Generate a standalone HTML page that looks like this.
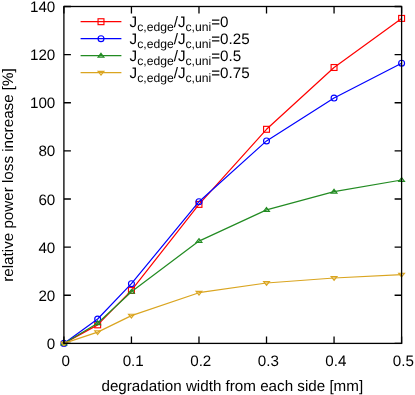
<!DOCTYPE html><html><head><meta charset="utf-8"><style>html,body{margin:0;padding:0;background:#fff;}svg{display:block;will-change:transform;}text{text-rendering:geometricPrecision;font-family:"Liberation Sans",sans-serif;font-size:15.2px;fill:#000;}</style></head><body>
<svg width="415" height="395" viewBox="0 0 415 395">
<rect width="415" height="395" fill="#fff"/>
<text x="55.3" y="349.00" text-anchor="end">0</text>
<text x="55.3" y="300.87" text-anchor="end">20</text>
<text x="55.3" y="252.74" text-anchor="end">40</text>
<text x="55.3" y="204.61" text-anchor="end">60</text>
<text x="55.3" y="156.49" text-anchor="end">80</text>
<text x="55.3" y="108.36" text-anchor="end">100</text>
<text x="55.3" y="60.23" text-anchor="end">120</text>
<text x="55.3" y="12.10" text-anchor="end">140</text>
<text x="65.70" y="365.8" text-anchor="middle">0</text>
<text x="133.24" y="365.8" text-anchor="middle">0.1</text>
<text x="200.78" y="365.8" text-anchor="middle">0.2</text>
<text x="268.32" y="365.8" text-anchor="middle">0.3</text>
<text x="335.86" y="365.8" text-anchor="middle">0.4</text>
<text x="403.40" y="365.8" text-anchor="middle">0.5</text>
<text x="232.3" y="391.4" text-anchor="middle">degradation width from each side [mm]</text>
<text transform="translate(12.6,175) rotate(-90)" text-anchor="middle">relative power loss increase [%]</text>
<polyline points="63.90,343.40 97.67,324.85 131.44,290.40 198.98,204.40 266.52,129.30 334.06,67.50 401.60,18.40" fill="none" stroke="#ff0000" stroke-width="1.2" stroke-linejoin="round"/>
<rect x="94.72" y="321.90" width="5.90" height="5.90" fill="none" stroke="#ff0000" stroke-width="1.15"/>
<rect x="128.49" y="287.45" width="5.90" height="5.90" fill="none" stroke="#ff0000" stroke-width="1.15"/>
<rect x="196.03" y="201.45" width="5.90" height="5.90" fill="none" stroke="#ff0000" stroke-width="1.15"/>
<rect x="263.57" y="126.35" width="5.90" height="5.90" fill="none" stroke="#ff0000" stroke-width="1.15"/>
<rect x="331.11" y="64.55" width="5.90" height="5.90" fill="none" stroke="#ff0000" stroke-width="1.15"/>
<rect x="398.65" y="15.45" width="5.90" height="5.90" fill="none" stroke="#ff0000" stroke-width="1.15"/>
<polyline points="63.90,343.40 97.67,319.00 131.44,283.70 198.98,201.70 266.52,140.90 334.06,98.00 401.60,63.20" fill="none" stroke="#0000ff" stroke-width="1.2" stroke-linejoin="round"/>
<circle cx="63.90" cy="343.40" r="2.95" fill="none" stroke="#0000ff" stroke-width="1.15"/>
<circle cx="97.67" cy="319.00" r="2.95" fill="none" stroke="#0000ff" stroke-width="1.15"/>
<circle cx="131.44" cy="283.70" r="2.95" fill="none" stroke="#0000ff" stroke-width="1.15"/>
<circle cx="198.98" cy="201.70" r="2.95" fill="none" stroke="#0000ff" stroke-width="1.15"/>
<circle cx="266.52" cy="140.90" r="2.95" fill="none" stroke="#0000ff" stroke-width="1.15"/>
<circle cx="334.06" cy="98.00" r="2.95" fill="none" stroke="#0000ff" stroke-width="1.15"/>
<circle cx="401.60" cy="63.20" r="2.95" fill="none" stroke="#0000ff" stroke-width="1.15"/>
<polyline points="63.90,343.40 97.67,323.20 131.44,291.80 198.98,241.10 266.52,209.90 334.06,191.70 401.60,180.00" fill="none" stroke="#228b22" stroke-width="1.2" stroke-linejoin="round"/>
<path d="M63.90 341.00 L66.80 344.80 L61.00 344.80 Z" fill="none" stroke="#228b22" stroke-width="1.15" stroke-linejoin="miter"/>
<path d="M97.67 320.80 L100.57 324.60 L94.77 324.60 Z" fill="none" stroke="#228b22" stroke-width="1.15" stroke-linejoin="miter"/>
<path d="M131.44 289.40 L134.34 293.20 L128.54 293.20 Z" fill="none" stroke="#228b22" stroke-width="1.15" stroke-linejoin="miter"/>
<path d="M198.98 238.70 L201.88 242.50 L196.08 242.50 Z" fill="none" stroke="#228b22" stroke-width="1.15" stroke-linejoin="miter"/>
<path d="M266.52 207.50 L269.42 211.30 L263.62 211.30 Z" fill="none" stroke="#228b22" stroke-width="1.15" stroke-linejoin="miter"/>
<path d="M334.06 189.30 L336.96 193.10 L331.16 193.10 Z" fill="none" stroke="#228b22" stroke-width="1.15" stroke-linejoin="miter"/>
<path d="M401.60 177.60 L404.50 181.40 L398.70 181.40 Z" fill="none" stroke="#228b22" stroke-width="1.15" stroke-linejoin="miter"/>
<polyline points="63.90,343.40 97.67,332.10 131.44,315.60 198.98,292.70 266.52,283.00 334.06,278.00 401.60,274.60" fill="none" stroke="#daa520" stroke-width="1.2" stroke-linejoin="round"/>
<path d="M63.90 345.80 L66.80 342.00 L61.00 342.00 Z" fill="none" stroke="#daa520" stroke-width="1.15" stroke-linejoin="miter"/>
<path d="M97.67 334.50 L100.57 330.70 L94.77 330.70 Z" fill="none" stroke="#daa520" stroke-width="1.15" stroke-linejoin="miter"/>
<path d="M131.44 318.00 L134.34 314.20 L128.54 314.20 Z" fill="none" stroke="#daa520" stroke-width="1.15" stroke-linejoin="miter"/>
<path d="M198.98 295.10 L201.88 291.30 L196.08 291.30 Z" fill="none" stroke="#daa520" stroke-width="1.15" stroke-linejoin="miter"/>
<path d="M266.52 285.40 L269.42 281.60 L263.62 281.60 Z" fill="none" stroke="#daa520" stroke-width="1.15" stroke-linejoin="miter"/>
<path d="M334.06 280.40 L336.96 276.60 L331.16 276.60 Z" fill="none" stroke="#daa520" stroke-width="1.15" stroke-linejoin="miter"/>
<path d="M401.60 277.00 L404.50 273.20 L398.70 273.20 Z" fill="none" stroke="#daa520" stroke-width="1.15" stroke-linejoin="miter"/>
<g stroke="#000" stroke-width="1.3" fill="none">
<path d="M63.9 343.40 h7 M401.6 343.40 h-7"/>
<path d="M63.9 295.27 h7 M401.6 295.27 h-7"/>
<path d="M63.9 247.14 h7 M401.6 247.14 h-7"/>
<path d="M63.9 199.01 h7 M401.6 199.01 h-7"/>
<path d="M63.9 150.89 h7 M401.6 150.89 h-7"/>
<path d="M63.9 102.76 h7 M401.6 102.76 h-7"/>
<path d="M63.9 54.63 h7 M401.6 54.63 h-7"/>
<path d="M63.9 6.50 h7 M401.6 6.50 h-7"/>
<path d="M63.90 343.4 v-7 M63.90 6.5 v7"/>
<path d="M131.44 343.4 v-7 M131.44 6.5 v7"/>
<path d="M198.98 343.4 v-7 M198.98 6.5 v7"/>
<path d="M266.52 343.4 v-7 M266.52 6.5 v7"/>
<path d="M334.06 343.4 v-7 M334.06 6.5 v7"/>
<path d="M401.60 343.4 v-7 M401.60 6.5 v7"/>
<rect x="63.9" y="6.5" width="337.70" height="336.90"/>
</g>
<path d="M80.6 21.70 H121.4" stroke="#ff0000" stroke-width="1.2" fill="none"/>
<rect x="98.05" y="18.75" width="5.90" height="5.90" fill="none" stroke="#ff0000" stroke-width="1.15"/>
<text x="129.6" y="26.60">J<tspan font-size="12.16px" dy="4.4">c,edge</tspan><tspan dy="-4.4">/J</tspan><tspan font-size="12.16px" dy="4.4">c,uni</tspan><tspan dy="-4.4">=0</tspan></text>
<path d="M80.6 38.70 H121.4" stroke="#0000ff" stroke-width="1.2" fill="none"/>
<circle cx="101.00" cy="38.70" r="2.95" fill="none" stroke="#0000ff" stroke-width="1.15"/>
<text x="129.6" y="43.60">J<tspan font-size="12.16px" dy="4.4">c,edge</tspan><tspan dy="-4.4">/J</tspan><tspan font-size="12.16px" dy="4.4">c,uni</tspan><tspan dy="-4.4">=0.25</tspan></text>
<path d="M80.6 55.70 H121.4" stroke="#228b22" stroke-width="1.2" fill="none"/>
<path d="M101.00 53.30 L103.90 57.10 L98.10 57.10 Z" fill="none" stroke="#228b22" stroke-width="1.15" stroke-linejoin="miter"/>
<text x="129.6" y="60.60">J<tspan font-size="12.16px" dy="4.4">c,edge</tspan><tspan dy="-4.4">/J</tspan><tspan font-size="12.16px" dy="4.4">c,uni</tspan><tspan dy="-4.4">=0.5</tspan></text>
<path d="M80.6 72.70 H121.4" stroke="#daa520" stroke-width="1.2" fill="none"/>
<path d="M101.00 75.10 L103.90 71.30 L98.10 71.30 Z" fill="none" stroke="#daa520" stroke-width="1.15" stroke-linejoin="miter"/>
<text x="129.6" y="77.60">J<tspan font-size="12.16px" dy="4.4">c,edge</tspan><tspan dy="-4.4">/J</tspan><tspan font-size="12.16px" dy="4.4">c,uni</tspan><tspan dy="-4.4">=0.75</tspan></text>
</svg></body></html>
